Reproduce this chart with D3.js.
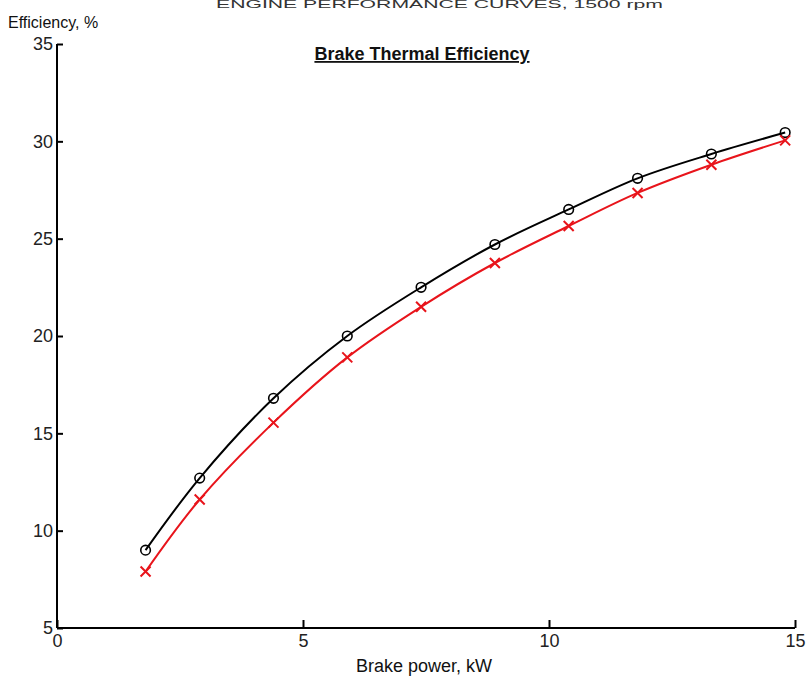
<!DOCTYPE html>
<html><head><meta charset="utf-8">
<script src="https://cdn.jsdelivr.net/npm/d3@7"></script>
<style>
body{margin:0;background:#fff;}
text{font-family:"Liberation Sans",Arial,sans-serif;}
</style></head>
<body><svg id="c" width="806" height="682"></svg>
<script>
const brakePower = [1.8, 2.9, 4.4, 5.9, 7.4, 8.9, 10.4, 11.8, 13.3, 14.8];
const effBlack = [9.0, 12.7, 16.8, 20.0, 22.5, 24.7, 26.5, 28.1, 29.35, 30.45];
const effRed = [7.9, 11.6, 15.55, 18.9, 21.5, 23.75, 25.65, 27.35, 28.8, 30.05];
const xTicks = [0, 5, 10, 15];
const yTicks = [5, 10, 15, 20, 25, 30, 35];

const svg = d3.select("#c");
const x = d3.scaleLinear().domain([0, 15]).range([57, 795]);
const y = d3.scaleLinear().domain([5, 35]).range([628, 44]);

svg.append("text").attr("x", 216).attr("y", 8)
  .attr("font-size", 10).attr("fill", "#333")
  .attr("textLength", 447).attr("lengthAdjust", "spacingAndGlyphs")
  .text("ENGINE PERFORMANCE CURVES, 1500 rpm");

// axes
const xa = svg.append("g").attr("transform", "translate(0,628)")
  .call(d3.axisBottom(x).tickValues(xTicks).tickSize(-8).tickPadding(4).tickFormat(d3.format("d")));
const ya = svg.append("g").attr("transform", "translate(57,0)")
  .call(d3.axisLeft(y).tickValues(yTicks).tickSize(-6).tickPadding(4).tickFormat(d3.format("d")));
[xa, ya].forEach(a => {
  a.select(".domain").attr("stroke", "#000").attr("stroke-width", 2);
  a.selectAll(".tick line").attr("stroke", "#000").attr("stroke-width", 2);
  a.selectAll(".tick text").attr("font-size", 18).attr("fill", "#222")
    .attr("font-family", '"Liberation Sans",Arial,sans-serif');
});
xa.select(".domain").attr("d", "M57,0H795");
ya.select(".domain").attr("d", "M0,44V628");
xa.selectAll(".tick text").attr("dy", "0.85em");

svg.append("text").attr("x", 8).attr("y", 28).attr("font-size", 16).attr("fill", "#111").text("Efficiency, %");
svg.append("text").attr("x", 424).attr("y", 672).attr("text-anchor", "middle").attr("font-size", 18).attr("fill", "#111").text("Brake power, kW");
svg.append("text").attr("x", 422).attr("y", 60).attr("text-anchor", "middle")
  .attr("font-size", 18).attr("font-weight", "bold").attr("fill", "#111")
  .attr("text-decoration", "underline").text("Brake Thermal Efficiency");

const line = d3.line().x(d => x(d[0])).y(d => y(d[1])).curve(d3.curveCatmullRom.alpha(0.5));
const blackPts = brakePower.map((p, i) => [p, effBlack[i]]);
const redPts = brakePower.map((p, i) => [p, effRed[i]]);

svg.append("path").datum(blackPts).attr("d", line).attr("fill", "none").attr("stroke", "#000").attr("stroke-width", 2);
svg.append("path").datum(redPts).attr("d", line).attr("fill", "none").attr("stroke", "#e8141b").attr("stroke-width", 2);

svg.selectAll(".circ").data(blackPts).enter().append("circle")
  .attr("cx", d => x(d[0])).attr("cy", d => y(d[1])).attr("r", 4.8)
  .attr("fill", "none").attr("stroke", "#000").attr("stroke-width", 1.6);

const s = 5;
svg.selectAll(".cross").data(redPts).enter().append("path")
  .attr("d", d => { const cx = x(d[0]), cy = y(d[1]);
    return `M${cx-s},${cy-s}L${cx+s},${cy+s}M${cx-s},${cy+s}L${cx+s},${cy-s}`; })
  .attr("stroke", "#e8141b").attr("stroke-width", 2).attr("fill", "none");
</script></body></html>
